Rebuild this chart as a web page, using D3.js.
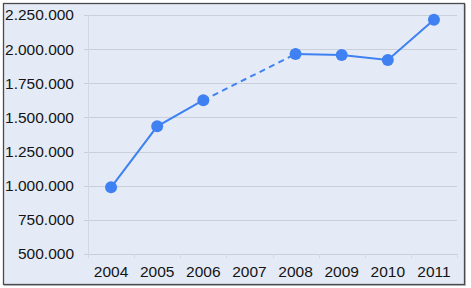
<!DOCTYPE html>
<html>
<head>
<meta charset="utf-8">
<script src="https://cdn.jsdelivr.net/npm/d3@7"></script>
<style>
    html, body { margin: 0; padding: 0; background: #ffffff; }
    svg { display: block; }
</style>
</head>
<body>
<div id="chart"></div>
<script>
var years = ["2004", "2005", "2006", "2007", "2008", "2009", "2010", "2011"];
var values = [988000, 1435000, 1626000, null, 1964000, 1957000, 1920000, 2215000];
var yTicks = [500000, 750000, 1000000, 1250000, 1500000, 1750000, 2000000, 2250000];

(function() {
    var width = 471, height = 288;
    var plot = { left: 88, right: 457, top: 15, bottom: 254 };

    var svg = d3.select("#chart")
        .append("svg")
        .attr("width", width)
        .attr("height", height);

    // panel background + frame
    svg.append("rect")
        .attr("x", 4.5).attr("y", 4.5)
        .attr("width", 461).attr("height", 281)
        .attr("fill", "none")
        .attr("stroke", "#bfc3c8")
        .attr("stroke-width", 1);
    svg.append("rect")
        .attr("x", 3.5).attr("y", 3.5)
        .attr("width", 461).attr("height", 281)
        .attr("fill", "#e4ebf6")
        .attr("stroke", "#4a4a4a")
        .attr("stroke-width", 1.3);

    var x = d3.scaleBand()
        .domain(years)
        .range([plot.left, plot.right])
        .paddingInner(0)
        .paddingOuter(0);

    var y = d3.scaleLinear()
        .domain([500000, 2250000])
        .range([plot.bottom, plot.top]);

    var fmt = d3.formatLocale({ decimal: ",", thousands: ".", grouping: [3], currency: ["", ""] }).format(",");

    // horizontal gridlines
    svg.append("g")
        .selectAll("line")
        .data(yTicks)
        .enter().append("line")
        .attr("x1", plot.left - 4)
        .attr("x2", plot.right)
        .attr("y1", d => Math.round(y(d)) + 0.5)
        .attr("y2", d => Math.round(y(d)) + 0.5)
        .attr("stroke", "#c9d0da")
        .attr("stroke-width", 1);

    // y axis line
    svg.append("line")
        .attr("x1", plot.left + 0.5).attr("x2", plot.left + 0.5)
        .attr("y1", plot.top).attr("y2", plot.bottom)
        .attr("stroke", "#d3d9e2");

    // x tick marks at band edges
    var edges = years.map(d => x(d)).concat([plot.right]);
    svg.append("g")
        .selectAll("line")
        .data(edges)
        .enter().append("line")
        .attr("x1", d => Math.round(d) + 0.5)
        .attr("x2", d => Math.round(d) + 0.5)
        .attr("y1", plot.bottom)
        .attr("y2", plot.bottom + 4)
        .attr("stroke", "#d3d9e2");

    // y labels
    svg.append("g")
        .selectAll("text")
        .data(yTicks)
        .enter().append("text")
        .attr("x", 74)
        .attr("y", d => y(d))
        .attr("dy", "0.35em")
        .attr("text-anchor", "end")
        .attr("font-family", "Liberation Sans, Arial, sans-serif")
        .attr("font-size", 15.5)
        .attr("fill", "#141414")
        .text(d => fmt(d));

    // x labels
    svg.append("g")
        .selectAll("text")
        .data(years)
        .enter().append("text")
        .attr("x", d => x(d) + x.bandwidth() / 2)
        .attr("y", 276.5)
        .attr("text-anchor", "middle")
        .attr("font-family", "Liberation Sans, Arial, sans-serif")
        .attr("font-size", 15.5)
        .attr("fill", "#141414")
        .text(d => d);

    var points = years.map((yr, i) => ({ year: yr, value: values[i] }));
    var cx = d => x(d.year) + x.bandwidth() / 2;

    var line = d3.line()
        .defined(d => d.value != null)
        .x(cx)
        .y(d => y(d.value));

    var blue = "#3f81f2";

    svg.append("path")
        .datum(points)
        .attr("d", line)
        .attr("fill", "none")
        .attr("stroke", blue)
        .attr("stroke-width", 2);

    // dashed bridge over the missing years
    var gaps = [];
    points.forEach(function(d, i) {
        if (d.value == null) return;
        var j = i + 1;
        while (j < points.length && points[j].value == null) j++;
        if (j > i + 1 && j < points.length) gaps.push([d, points[j]]);
    });

    svg.append("g")
        .selectAll("path")
        .data(gaps)
        .enter().append("path")
        .attr("d", d3.line().x(cx).y(d => y(d.value)))
        .attr("fill", "none")
        .attr("stroke", blue)
        .attr("stroke-width", 2)
        .attr("stroke-dasharray", "6,4.5");

    svg.append("g")
        .selectAll("circle")
        .data(points.filter(d => d.value != null))
        .enter().append("circle")
        .attr("cx", cx)
        .attr("cy", d => y(d.value))
        .attr("r", 6)
        .attr("fill", blue);
})();
</script>
</body>
</html>
